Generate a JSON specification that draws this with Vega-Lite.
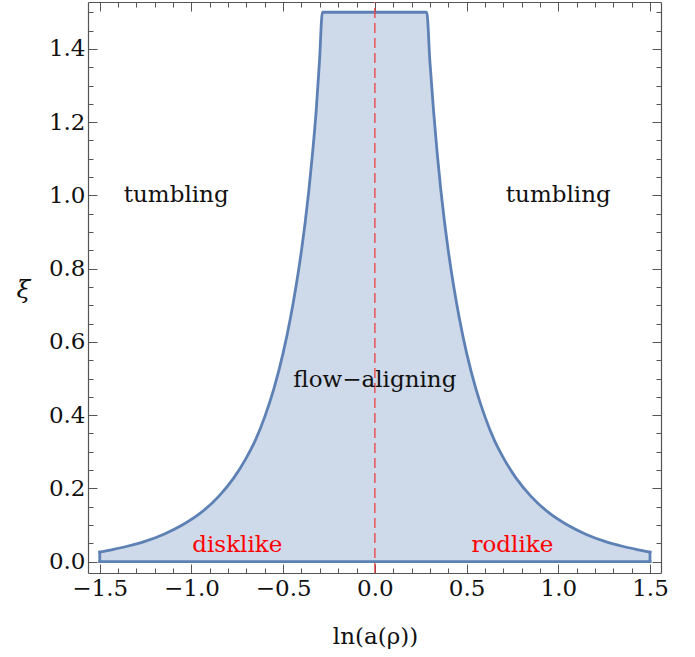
{
  "$schema": "https://vega.github.io/schema/vega-lite/v6.json",
  "width": 573,
  "height": 571,
  "autosize": "none",
  "padding": {"left": 88, "top": 2, "right": 34, "bottom": 84},
  "background": "white",
  "config": {
    "view": {"stroke": null},
    "font": "DejaVu Serif",
    "axis": {
      "grid": false,
      "domainColor": "#555555",
      "domainWidth": 1.2,
      "tickColor": "#555555",
      "tickWidth": 1,
      "labelFont": "DejaVu Serif",
      "labelFontSize": 23,
      "labelColor": "#111111",
      "titleFont": "DejaVu Serif",
      "titleFontSize": 23,
      "titleFontWeight": "normal",
      "titleColor": "#111111"
    }
  },
  "datasets": {
    "region": [
      {"x": -1.5, "y": 0.026},
      {"x": -1.43, "y": 0.033},
      {"x": -1.35, "y": 0.042},
      {"x": -1.25, "y": 0.056},
      {"x": -1.15, "y": 0.075},
      {"x": -1.05, "y": 0.1},
      {"x": -0.95, "y": 0.133},
      {"x": -0.85, "y": 0.179},
      {"x": -0.77, "y": 0.228},
      {"x": -0.7, "y": 0.284},
      {"x": -0.65, "y": 0.333},
      {"x": -0.6, "y": 0.396},
      {"x": -0.55, "y": 0.473},
      {"x": -0.5, "y": 0.57},
      {"x": -0.46, "y": 0.666},
      {"x": -0.43, "y": 0.751},
      {"x": -0.4, "y": 0.85},
      {"x": -0.38, "y": 0.926},
      {"x": -0.36, "y": 1.013},
      {"x": -0.34, "y": 1.114},
      {"x": -0.32, "y": 1.231},
      {"x": -0.302, "y": 1.366},
      {"x": -0.286, "y": 1.5},
      {"x": 0.283, "y": 1.5},
      {"x": 0.3, "y": 1.366},
      {"x": 0.32, "y": 1.231},
      {"x": 0.34, "y": 1.114},
      {"x": 0.36, "y": 1.013},
      {"x": 0.38, "y": 0.926},
      {"x": 0.4, "y": 0.85},
      {"x": 0.43, "y": 0.751},
      {"x": 0.46, "y": 0.666},
      {"x": 0.5, "y": 0.57},
      {"x": 0.55, "y": 0.473},
      {"x": 0.6, "y": 0.396},
      {"x": 0.65, "y": 0.333},
      {"x": 0.7, "y": 0.284},
      {"x": 0.77, "y": 0.228},
      {"x": 0.85, "y": 0.179},
      {"x": 0.95, "y": 0.133},
      {"x": 1.05, "y": 0.1},
      {"x": 1.15, "y": 0.075},
      {"x": 1.25, "y": 0.056},
      {"x": 1.35, "y": 0.042},
      {"x": 1.43, "y": 0.033},
      {"x": 1.5, "y": 0.026}
    ],
    "edges": [
      {"x": -1.5, "y": 0, "x2": 1.5, "y2": 0},
      {"x": -1.5, "y": 0, "x2": -1.5, "y2": 0.026},
      {"x": 1.5, "y": 0, "x2": 1.5, "y2": 0.026}
    ],
    "labels": [
      {"x": -1.083, "y": 1.0, "text": "tumbling", "kind": "regime"},
      {"x": 1.0, "y": 1.0, "text": "tumbling", "kind": "regime"},
      {"x": 0.0, "y": 0.496, "text": "flow−aligning", "kind": "regime"},
      {"x": -0.75, "y": 0.046, "text": "disklike", "kind": "shape"},
      {"x": 0.75, "y": 0.046, "text": "rodlike", "kind": "shape"}
    ]
  },
  "resolve": {"axis": {"x": "independent", "y": "independent"}},
  "layer": [
    {
      "data": {"name": "region"},
      "mark": {"type": "area", "color": "#5e81b5", "fillOpacity": 0.3, "strokeWidth": 0, "interpolate": "monotone"},
      "encoding": {
        "x": {
          "field": "x", "type": "quantitative",
          "scale": {"domain": [-1.564, 1.56], "nice": false, "zero": false},
          "axis": {
            "orient": "bottom",
            "title": "ln(a(ρ))",
            "values": [-1.5,-1.4,-1.3,-1.2,-1.1,-1.0,-0.9,-0.8,-0.7,-0.6,-0.5,-0.4,-0.3,-0.2,-0.1,0,0.1,0.2,0.3,0.4,0.5,0.6,0.7,0.8,0.9,1.0,1.1,1.2,1.3,1.4,1.5],
            "labelExpr": "abs(datum.value*2 - round(datum.value*2)) < 0.001 ? format(datum.value, '.1f') : ''",
            "tickSize": {"condition": {"test": "abs(datum.value*2 - round(datum.value*2)) < 0.001", "value": -9}, "value": -5},
            "labelPadding": 13,
            "labelFlush": false,
            "labelOverlap": false,
            "titleX": 287,
            "titleY": 63,
            "titleBaseline": "middle",
            "titleAnchor": null,
            "titleAlign": "center"
          }
        },
        "y": {
          "field": "y", "type": "quantitative",
          "scale": {"domain": [-0.031, 1.528], "nice": false, "zero": false},
          "axis": {
            "orient": "left",
            "title": "ξ",
            "titleFontStyle": "italic",
            "titleFontSize": 25,
            "values": [0,0.05,0.1,0.15,0.2,0.25,0.3,0.35,0.4,0.45,0.5,0.55,0.6,0.65,0.7,0.75,0.8,0.85,0.9,0.95,1.0,1.05,1.1,1.15,1.2,1.25,1.3,1.35,1.4,1.45,1.5],
            "labelExpr": "abs(datum.value*5 - round(datum.value*5)) < 0.001 ? format(datum.value, '.1f') : ''",
            "tickSize": {"condition": {"test": "abs(datum.value*5 - round(datum.value*5)) < 0.001", "value": -9}, "value": -5},
            "labelPadding": 12,
            "labelFlush": false,
            "labelOverlap": false,
            "titleAngle": 0,
            "titleX": -65,
            "titleY": 287,
            "titleAlign": "center",
            "titleBaseline": "middle",
            "titleAnchor": null
          }
        },
        "y2": {"datum": 0}
      }
    },
    {
      "data": {"name": "region"},
      "mark": {"type": "line", "color": "#5e81b5", "strokeWidth": 2.8, "strokeJoin": "miter", "strokeCap": "square", "interpolate": "monotone"},
      "encoding": {
        "x": {
          "field": "x", "type": "quantitative",
          "scale": {"domain": [-1.564, 1.56], "nice": false, "zero": false},
          "axis": {
            "orient": "top",
            "title": null,
            "labels": false,
            "values": [-1.5,-1.4,-1.3,-1.2,-1.1,-1.0,-0.9,-0.8,-0.7,-0.6,-0.5,-0.4,-0.3,-0.2,-0.1,0,0.1,0.2,0.3,0.4,0.5,0.6,0.7,0.8,0.9,1.0,1.1,1.2,1.3,1.4,1.5],
            "tickSize": {"condition": {"test": "abs(datum.value*2 - round(datum.value*2)) < 0.001", "value": -9}, "value": -5}
          }
        },
        "y": {
          "field": "y", "type": "quantitative",
          "scale": {"domain": [-0.031, 1.528], "nice": false, "zero": false},
          "axis": {
            "orient": "right",
            "title": null,
            "labels": false,
            "values": [0,0.05,0.1,0.15,0.2,0.25,0.3,0.35,0.4,0.45,0.5,0.55,0.6,0.65,0.7,0.75,0.8,0.85,0.9,0.95,1.0,1.05,1.1,1.15,1.2,1.25,1.3,1.35,1.4,1.45,1.5],
            "tickSize": {"condition": {"test": "abs(datum.value*5 - round(datum.value*5)) < 0.001", "value": -9}, "value": -5}
          }
        }
      }
    },
    {
      "data": {"name": "edges"},
      "mark": {"type": "rule", "color": "#5e81b5", "strokeWidth": 2.8, "strokeCap": "square"},
      "encoding": {
        "x": {"field": "x", "type": "quantitative", "scale": {"domain": [-1.564, 1.56], "nice": false, "zero": false}, "axis": null},
        "y": {"field": "y", "type": "quantitative", "scale": {"domain": [-0.031, 1.528], "nice": false, "zero": false}, "axis": null},
        "x2": {"field": "x2"},
        "y2": {"field": "y2"}
      }
    },
    {
      "data": {"values": [{"x": 0, "y": -0.031, "y2": 1.528}]},
      "mark": {"type": "rule", "color": "#f03c3c", "strokeWidth": 1.5, "strokeDash": [10, 5], "opacity": 0.85},
      "encoding": {
        "x": {"field": "x", "type": "quantitative", "scale": {"domain": [-1.564, 1.56], "nice": false, "zero": false}, "axis": null},
        "y": {"field": "y", "type": "quantitative", "scale": {"domain": [-0.031, 1.528], "nice": false, "zero": false}, "axis": null},
        "y2": {"field": "y2"}
      }
    },
    {
      "data": {"name": "labels"},
      "mark": {"type": "text", "font": "DejaVu Serif", "fontSize": 23, "align": "center", "baseline": "middle"},
      "encoding": {
        "x": {"field": "x", "type": "quantitative", "scale": {"domain": [-1.564, 1.56], "nice": false, "zero": false}, "axis": null},
        "y": {"field": "y", "type": "quantitative", "scale": {"domain": [-0.031, 1.528], "nice": false, "zero": false}, "axis": null},
        "text": {"field": "text", "type": "nominal"},
        "color": {"field": "kind", "type": "nominal", "scale": {"domain": ["regime", "shape"], "range": ["#111111", "#ff0000"]}, "legend": null}
      }
    }
  ]
}
